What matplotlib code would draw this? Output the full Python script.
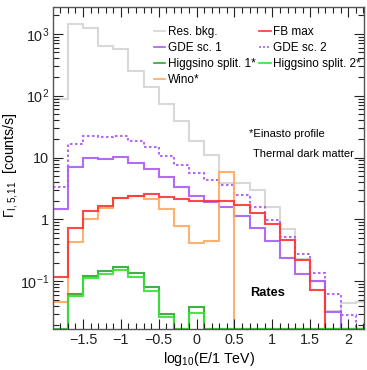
import numpy as np
import matplotlib
matplotlib.use("Agg")
import matplotlib.pyplot as plt
from matplotlib.ticker import FixedLocator, FuncFormatter, LogLocator, NullFormatter
from matplotlib.lines import Line2D

plt.rcParams['font.family'] = ['Liberation Sans', 'DejaVu Sans']
plt.rcParams['mathtext.fontset'] = 'custom'
plt.rcParams['mathtext.rm'] = 'Liberation Sans'
plt.rcParams['mathtext.it'] = 'Liberation Sans:italic'
plt.rcParams['mathtext.default'] = 'regular'

# energy bins in log10(E/1 TeV)
bin_edges = np.round(np.arange(-1.9, 2.31, 0.2), 2)

# rates per bin [counts/s]
res_bkg = [88, 1420, 1230, 635, 560, 253, 137, 74, 39.5, 18.7, 11, 3.9, 3.85,
           3.05, 1.58, 0.70, 0.23, 0.10, 0.033, 0.044, 0.047]
gde_sc1 = [1.48, 6.97, 9.96, 9.5, 10.1, 8.3, 6.6, 4.8, 3.4, 2.4, 1.95, 1.61,
           1.14, 0.74, 0.45, 0.24, 0.132, 0.10, 0.032, 0, 0]
gde_sc2 = [3.4, 16.3, 22.6, 21.5, 22.6, 18.8, 15, 10.6, 7.5, 5.6, 4.3, 3.55,
           2.5, 1.59, 0.97, 0.52, 0.28, 0.138, 0.062, 0.029, 0]
fb_max = [0.118, 0.74, 1.37, 1.67, 2.25, 2.43, 2.55, 2.28, 2.12, 1.99, 2.01,
          2.0, 1.71, 1.29, 0.84, 0.47, 0.22, 0.072, 0, 0, 0]
wino = [0.047, 0.43, 1.0, 1.52, 2.25, 2.4, 2.14, 1.46, 0.785, 0.41, 0.45, 5.9,
        0, 0, 0, 0, 0, 0, 0, 0, 0]
higgsino1 = [0, 0.063, 0.124, 0.145, 0.172, 0.136, 0.081, 0.030, 0, 0.039,
             0, 0, 0, 0, 0, 0, 0, 0, 0, 0, 0]
higgsino2 = [0, 0.057, 0.112, 0.130, 0.153, 0.119, 0.071, 0.027, 0, 0.031,
             0, 0, 0, 0, 0, 0, 0, 0, 0, 0, 0]

x_ticks = [-1.5, -1.0, -0.5, 0.0, 0.5, 1.0, 1.5, 2.0]
y_ticks = [0.1, 1, 10, 100, 1000]
y_tick_labels = ['$10^{-1}$', '1', '10', '$10^{2}$', '$10^{3}$']

YMIN, YMAX = 0.017, 2680
XMIN, XMAX = -1.89, 2.21

C_GRAY = '#d4d4d4'
C_PURPLE = '#a95cf6'
C_RED = '#ff3434'
C_ORANGE = '#ffa95e'
C_DGREEN = '#2ea82e'
C_LGREEN = '#38e038'

fig = plt.figure(figsize=(3.67, 3.70), dpi=100)
ax = fig.add_axes([53.5 / 367, 41 / 370, (364 - 53.5) / 367, (329 - 7.3) / 370])
ax.set_yscale('log')


def floor(v):
    v = np.asarray(v, dtype=float)
    return np.where(v > 0, v, YMIN)


series = [
    (res_bkg, C_GRAY, '-', 'Res. bkg.'),
    (gde_sc2, C_PURPLE, (0, (1.2, 1.2)), 'GDE sc. 2'),
    (gde_sc1, C_PURPLE, '-', 'GDE sc. 1'),
    (wino, C_ORANGE, '-', 'Wino*'),
    (fb_max, C_RED, '-', 'FB max'),
    (higgsino1, C_DGREEN, '-', 'Higgsino split. 1*'),
    (higgsino2, C_LGREEN, '-', 'Higgsino split. 2*'),
]
for vals, col, ls, lab in series:
    ax.stairs(floor(vals), bin_edges, baseline=None, color=col, lw=1.5,
              linestyle=ls, alpha=0.9)

ax.set_xlim(XMIN, XMAX)
ax.set_ylim(YMIN, YMAX)

ax.xaxis.set_major_locator(FixedLocator(x_ticks))
ax.xaxis.set_minor_locator(FixedLocator(np.round(np.arange(-1.8, 2.21, 0.1), 2)))
ax.xaxis.set_major_formatter(FuncFormatter(lambda v, p: ('%g' % v).replace('-', '\u2212')))
ax.yaxis.set_major_locator(FixedLocator(y_ticks))
ax.yaxis.set_major_formatter(FuncFormatter(
    lambda v, p: y_tick_labels[y_ticks.index(min(y_ticks, key=lambda t: abs(t - v)))]))
ax.yaxis.set_minor_locator(LogLocator(base=10, subs=np.arange(2, 10), numticks=20))
ax.yaxis.set_minor_formatter(NullFormatter())

ax.tick_params(which='both', direction='in', top=True, right=True, width=0.8, colors='#222222')
ax.tick_params(which='major', length=7.5, labelsize=10.4, pad=3)
ax.tick_params(which='minor', length=4)
for s in ax.spines.values():
    s.set_color('#555555')
    s.set_linewidth(1.0)

ax.set_xlabel('$log_{10}$(E/1 TeV)', fontsize=10.2, labelpad=2)
ax.set_ylabel(r'$\Gamma_{I,5,11}$  [counts/s]', fontsize=10.2)
ax.yaxis.set_label_coords(-0.107, 0.51)

handles = {lab: Line2D([], [], color=col, lw=1.2, linestyle=ls) for vals, col, ls, lab in series}
order = ['Res. bkg.', 'GDE sc. 1', 'Higgsino split. 1*', 'Wino*',
         'FB max', 'GDE sc. 2', 'Higgsino split. 2*']
fig.legend([handles[k] for k in order], order, ncol=2, frameon=False,
           loc='upper left', bbox_to_anchor=(154 / 367, 1 - 26 / 370),
           fontsize=8.5, handlelength=0.95, handletextpad=0.2,
           columnspacing=0.35, labelspacing=0.33, borderpad=0, borderaxespad=0)

fig.text(249 / 367, 1 - 134 / 370, '*Einasto profile', fontsize=8.1, va='center', ha='left')
fig.text(253 / 367, 1 - 154 / 370, 'Thermal dark matter', fontsize=8.0, va='center', ha='left')
fig.text(250 / 367, 1 - 293 / 370, 'Rates', fontsize=9.2, fontweight='bold', va='center', ha='left')

fig.savefig('out.png', dpi=100)
